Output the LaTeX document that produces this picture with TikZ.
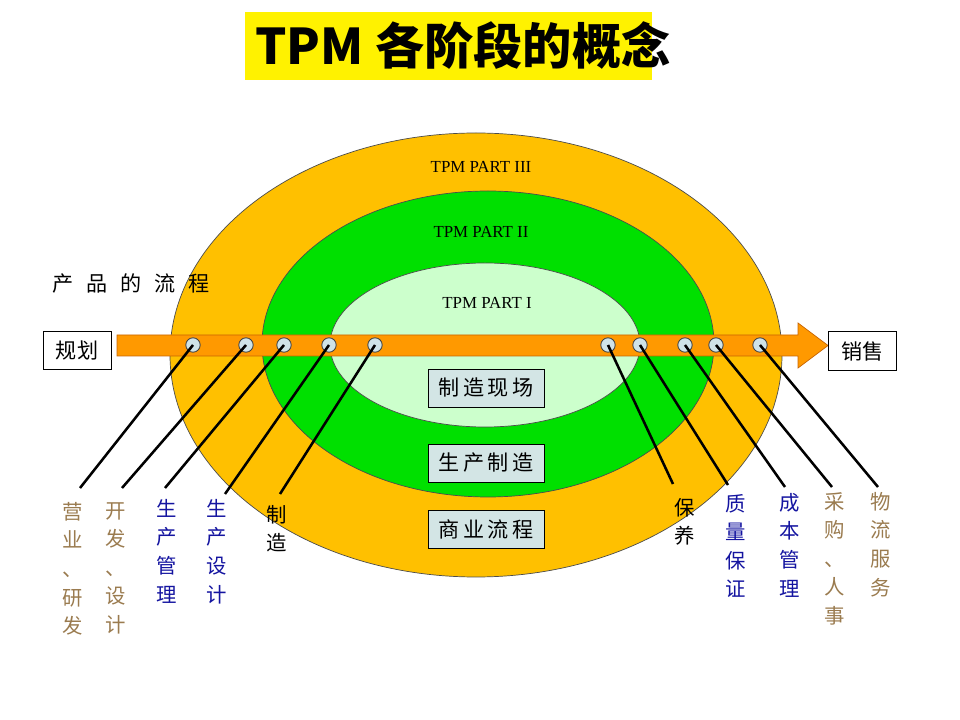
\documentclass[tikz,border=0pt]{standalone}
\usepackage{fontspec}
\setmainfont{Liberation Serif}
\newfontfamily\cjk{Noto Sans CJK SC}
\usetikzlibrary{positioning}
\definecolor{tpmorange}{HTML}{FFC000}
\definecolor{tpmgreen}{HTML}{00E000}
\definecolor{tpmpale}{HTML}{CCFFCC}
\definecolor{tpmarrow}{HTML}{FF9900}
\definecolor{tpmarrowline}{HTML}{C86400}
\definecolor{tpmdot}{HTML}{CFE3E8}
\definecolor{tpmbox}{HTML}{D3E5E5}
\definecolor{tpmtan}{HTML}{9A7B4F}
\definecolor{tpmblue}{HTML}{1414A0}

\begin{document}
\begin{tikzpicture}[x=0.025cm, y=-0.025cm,
    ring/.style={draw=black!70, line width=0.5pt},
    partlabel/.style={font=\fontsize{12}{14}\selectfont},
    endbox/.style={rectangle, draw=black, fill=white, line width=0.6pt,
                   minimum width=1.7cm, minimum height=0.97cm,
                   font=\cjk\fontsize{15}{18}\selectfont},
    stagebox/.style={rectangle, draw=black, fill=tpmbox, line width=0.6pt,
                     minimum width=2.9cm, minimum height=0.95cm,
                     font=\cjk\fontsize{15}{18}\selectfont},
    dot/.style={circle, draw=black!75, fill=tpmdot, line width=0.6pt,
                minimum size=0.36cm, inner sep=0pt},
    leader/.style={line width=1.8pt, black},
    vlabel/.style={anchor=north, align=center, inner sep=0pt,
                   font=\cjk\fontsize{14.5}{20.3}\selectfont}
  ]
    \useasboundingbox (0,0) rectangle (960,720);

    % title
    \fill[yellow] (245,12) rectangle (652,80);
    \node[font=\cjk\bfseries\fontsize{35}{38}\selectfont] (title) at (463,46) {TPM 各阶段的概念};

    % the three stages
    \fill[tpmorange, ring] (476,355) ellipse [x radius=306, y radius=222];
    \fill[tpmgreen, ring] (488,344) ellipse [x radius=226, y radius=153];
    \fill[tpmpale, ring] (485,345) ellipse [x radius=155, y radius=82];

    \node[partlabel] (p3) at (481,167) {TPM PART III};
    \node[partlabel] (p2) at (481,232) {TPM PART II};
    \node[partlabel] (p1) at (487,303) {TPM PART I};

    \node[stagebox] (shop) at (486,388) {制\,造\,现\,场};
    \node[stagebox] (prod) at (486,463) {生\,产\,制\,造};
    \node[stagebox] (biz) at (486,529) {商\,业\,流\,程};

    % product flow
    \node[font=\cjk\fontsize{15}{18}\selectfont] (flow) at (131,284)
      {产\hspace{.62em}品\hspace{.62em}的\hspace{.62em}流\hspace{.62em}程};
    \filldraw[fill=tpmarrow, draw=tpmarrowline, line width=0.5pt]
      (117,335) -- (798,335) -- (798,323) -- (828,345.5) -- (798,368)
      -- (798,356) -- (117,356) -- cycle;
    \node[endbox] (plan) at (77,350.5) {规划};
    \node[endbox] (sale) at (862.5,351) {销售};

    % points on the flow
    \foreach \n/\x in {1/193, 2/246, 3/284, 4/329, 5/375, 6/608, 7/640, 8/685, 9/716, 10/760}
      \node[dot] (c\n) at (\x,345) {};

    % labels
    \node[vlabel, text=tpmtan] (l1) at (73,502) {营\\业\\、\\研\\发};
    \node[vlabel, text=tpmtan] (l2) at (116,502) {开\\发\\、\\设\\计};
    \node[vlabel, text=tpmblue] (l3) at (167,499) {生\\产\\管\\理};
    \node[vlabel, text=tpmblue] (l4) at (217,499) {生\\产\\设\\计};
    \node[vlabel] (l5) at (277,505) {制\\造};
    \node[vlabel] (l6) at (685,498) {保\\养};
    \node[vlabel, text=tpmblue] (l7) at (736,494) {质\\量\\保\\证};
    \node[vlabel, text=tpmblue] (l8) at (790,493) {成\\本\\管\\理};
    \node[vlabel, text=tpmtan] (l9) at (835,492) {采\\购\\、\\人\\事};
    \node[vlabel, text=tpmtan] (l10) at (881,492) {物\\流\\服\\务};

    \coordinate (e1) at (80,488);
    \coordinate (e2) at (122,488);
    \coordinate (e3) at (165,488);
    \coordinate (e4) at (225,494);
    \coordinate (e5) at (280,494);
    \coordinate (e6) at (673,484);
    \coordinate (e7) at (728,485);
    \coordinate (e8) at (785,487);
    \coordinate (e9) at (832,487);
    \coordinate (e10) at (878,487);

    \foreach \n in {1,...,10}
      \draw[leader] (c\n.center) -- (e\n);
\end{tikzpicture}
\end{document}
